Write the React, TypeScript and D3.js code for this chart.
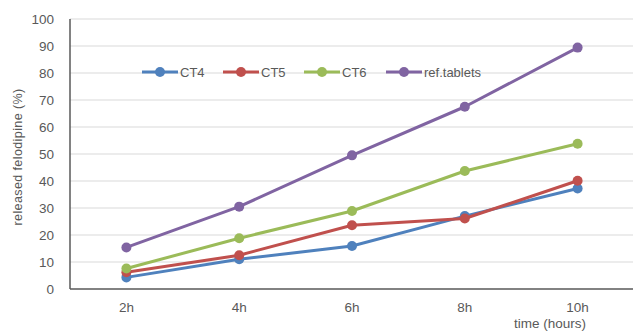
import React from "react";
import * as d3 from "d3";

const categories = ["2h", "4h", "6h", "8h", "10h"];
const seriesNames = ["CT4", "CT5", "CT6", "ref.tablets"];
const ct4 = [4.3, 11, 15.9, 27, 37.2];
const ct5 = [6.2, 12.5, 23.6, 26.1, 40.1];
const ct6 = [7.6, 18.8, 28.9, 43.7, 53.8];
const refTablets = [15.4, 30.5, 49.5, 67.5, 89.4];
const yTicks = [0, 10, 20, 30, 40, 50, 60, 70, 80, 90, 100];
const colors = ["#4F81BD", "#C0504D", "#9BBB59", "#8064A2"];

const W = 633;
const H = 331;
const plot = { left: 70, right: 634, top: 19, bottom: 289 };
const font = "'Liberation Sans', Arial, sans-serif";

export default function App() {
  const x = d3
    .scaleBand<string>()
    .domain(categories)
    .range([plot.left, plot.right]);
  const y = d3.scaleLinear().domain([0, 100]).range([plot.bottom, plot.top]);
  const cx = (c: string) => (x(c) ?? 0) + x.bandwidth() / 2;
  const line = d3
    .line<number>()
    .x((_, i) => cx(categories[i]))
    .y((v) => y(v));
  const data = [ct4, ct5, ct6, refTablets];
  const legendX = [142, 223, 304, 386];
  const legendY = 72;

  return (
    <svg
      width={W}
      height={H}
      style={{ position: "absolute", left: 0, top: 0, background: "#fff" }}
      fontFamily={font}
    >
      {yTicks.map((t) => (
        <g key={t}>
          {t > 0 && (
            <line
              x1={plot.left}
              x2={plot.right}
              y1={y(t)}
              y2={y(t)}
              stroke="#d9d9d9"
              strokeWidth={1}
            />
          )}
          <text
            x={54}
            y={y(t)}
            dy="0.35em"
            textAnchor="end"
            fontSize={13.5}
            fill="#595959"
          >
            {t}
          </text>
        </g>
      ))}
      <line
        x1={plot.left}
        x2={plot.left}
        y1={plot.top}
        y2={plot.bottom}
        stroke="#595959"
        strokeWidth={1.5}
      />
      <line
        x1={plot.left}
        x2={plot.right}
        y1={plot.bottom}
        y2={plot.bottom}
        stroke="#595959"
        strokeWidth={1.5}
      />
      {categories.map((c) => (
        <text
          key={c}
          x={cx(c)}
          y={307}
          dy="0.35em"
          textAnchor="middle"
          fontSize={13.5}
          fill="#595959"
        >
          {c}
        </text>
      ))}
      <text
        x={550}
        y={323}
        dy="0.35em"
        textAnchor="middle"
        fontSize={13.5}
        fill="#595959"
      >
        time (hours)
      </text>
      <text
        transform={`translate(18,157) rotate(-90)`}
        dy="0.35em"
        textAnchor="middle"
        fontSize={12.5}
        fill="#595959"
        letterSpacing={0.4}
      >
        released felodipine (%)
      </text>
      {data.map((vals, si) => (
        <g key={seriesNames[si]}>
          <path
            d={line(vals) ?? ""}
            fill="none"
            stroke={colors[si]}
            strokeWidth={3}
            strokeLinejoin="round"
          />
          {vals.map((v, i) => (
            <circle
              key={i}
              cx={cx(categories[i])}
              cy={y(v)}
              r={5}
              fill={colors[si]}
            />
          ))}
        </g>
      ))}
      {seriesNames.map((n, si) => (
        <g key={n} transform={`translate(${legendX[si]},${legendY})`}>
          <line x1={0} x2={36} y1={0} y2={0} stroke={colors[si]} strokeWidth={3} />
          <circle cx={18} cy={0} r={5} fill={colors[si]} />
          <text x={38} y={0} dy="0.35em" fontSize={13} fill="#595959">
            {n}
          </text>
        </g>
      ))}
    </svg>
  );
}
